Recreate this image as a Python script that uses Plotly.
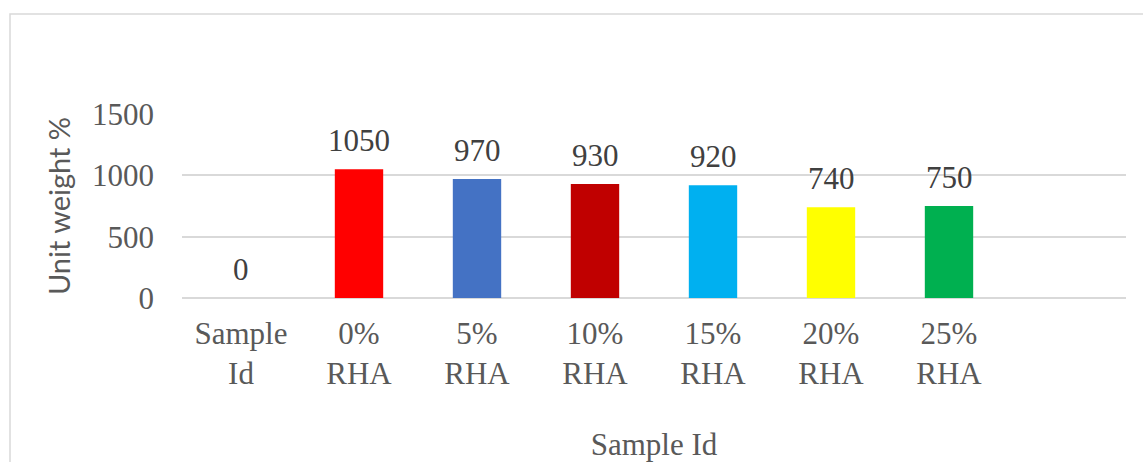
import plotly.graph_objects as go

# Unit weight by rice-husk-ash replacement level
categories = ["Sample<br>Id", "0%<br>RHA", "5%<br>RHA", "10%<br>RHA", "15%<br>RHA", "20%<br>RHA", "25%<br>RHA"]
unit_weight = [0, 1050, 970, 930, 920, 740, 750]
bar_colors = ["#A5A5A5", "#FF0000", "#4472C4", "#C00000", "#00B0F0", "#FFFF00", "#00B050"]
y_ticks = [0, 500, 1000, 1500]

W, H = 1143, 462
ML, MR, MT, MB = 182, 17, 114, 164
pw, ph = W - ML - MR, H - MT - MB

serif = "Liberation Serif"
tick_col = "#595959"
grid_col = "#D9D9D9"

fig = go.Figure(
    go.Bar(
        x=list(range(len(categories))),
        y=unit_weight,
        marker=dict(color=bar_colors, line=dict(width=0)),
        hoverinfo="skip",
    )
)

# value labels above each bar
for i, v in enumerate(unit_weight):
    fig.add_annotation(
        x=i, y=v, text=str(v), showarrow=False,
        xref="x", yref="y", yanchor="bottom", yshift=9,
        font=dict(family=serif, size=31, color="#404040"),
    )

# chart-area frame
def px_x(p):
    return (p - ML) / pw

def px_y(p):
    return (H - MB - p) / ph

fig.add_shape(
    type="rect", xref="paper", yref="paper",
    x0=px_x(10), x1=px_x(1160), y0=px_y(14), y1=px_y(480),
    line=dict(color=grid_col, width=1.5), fillcolor="rgba(0,0,0,0)", layer="below",
)

fig.update_layout(
    width=W, height=H,
    margin=dict(l=ML, r=MR, t=MT, b=MB, pad=0, autoexpand=False),
    paper_bgcolor="white", plot_bgcolor="white",
    showlegend=False,
    bargap=0.59,
    xaxis=dict(
        range=[-0.5, 7.5],
        automargin=False,
        tickmode="array",
        tickvals=list(range(len(categories))),
        ticktext=categories,
        tickfont=dict(family=serif, size=31, color=tick_col),
        showgrid=False, showline=False, zeroline=False, ticks="",
        ticklabelstandoff=14,
        title=dict(text="Sample Id", font=dict(family=serif, size=31, color=tick_col), standoff=46),
    ),
    yaxis=dict(
        range=[0, 1500],
        automargin=False,
        tickmode="array",
        tickvals=y_ticks,
        tickfont=dict(family=serif, size=31, color=tick_col),
        showgrid=True, gridcolor=grid_col, gridwidth=1.5,
        zeroline=True, zerolinecolor=grid_col, zerolinewidth=1.5,
        showline=False, ticks="",
        ticklabelstandoff=27,
        title=dict(text="Unit weight %", font=dict(family="Lato", size=29, color=tick_col), standoff=12),
    ),
)

fig.write_html("out.html")
